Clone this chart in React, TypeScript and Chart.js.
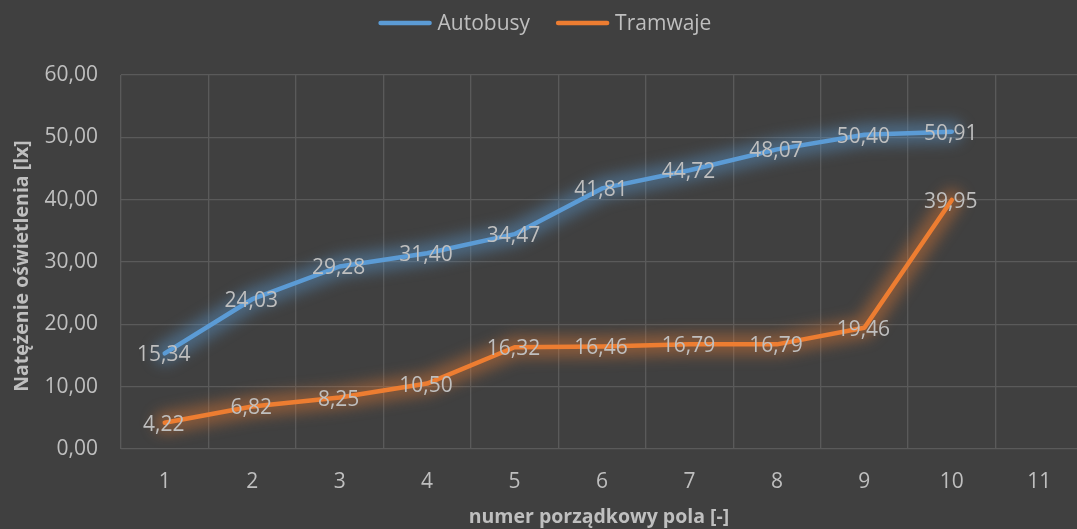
import React, { useEffect, useRef } from "react";
import { Chart, registerables } from "chart.js";

Chart.register(...registerables);

const categories = ["1", "2", "3", "4", "5", "6", "7", "8", "9", "10", "11"];
const autobusy = [15.34, 24.03, 29.28, 31.4, 34.47, 41.81, 44.72, 48.07, 50.4, 50.91];
const tramwaje = [4.22, 6.82, 8.25, 10.5, 16.32, 16.46, 16.79, 16.79, 19.46, 39.95];
const seriesNames = ["Autobusy", "Tramwaje"];
const seriesColors = ["#5B9BD5", "#ED7D31"];
const glowColors = ["rgba(91,155,213,0.42)", "rgba(237,125,49,0.4)"];
const yTitle = "Natężenie oświetlenia [lx]";
const xTitle = "numer porządkowy pola [-]";

const BG = "#404040";
const TEXT = "#BFBFBF";
const GRID = "#5A5A5A";
const FONT = "'Open Sans', sans-serif";

const fmt = (v: number) => v.toFixed(2).replace(".", ",");

const CANVAS_W = 1090;
const CANVAS_H = 529;

// soft glow under each series line
const glowPlugin = {
  id: "glow",
  beforeDatasetDraw(chart: any, args: any) {
    const ctx = chart.ctx;
    const pts = args.meta.data;
    ctx.save();
    ctx.strokeStyle = glowColors[args.index];
    ctx.lineWidth = 22;
    ctx.lineCap = "round";
    ctx.lineJoin = "round";
    ctx.filter = "blur(7px)";
    ctx.beginPath();
    pts.forEach((p: any, i: number) => (i ? ctx.lineTo(p.x, p.y) : ctx.moveTo(p.x, p.y)));
    ctx.stroke();
    ctx.restore();
  },
};

const decorPlugin = {
  id: "decor",
  beforeDraw(chart: any) {
    const { ctx, width, height } = chart;
    ctx.save();
    ctx.fillStyle = BG;
    ctx.fillRect(0, 0, width, height);
    ctx.restore();
  },
  afterDatasetsDraw(chart: any) {
    const { ctx, chartArea, width } = chart;
    ctx.save();
    // value labels centred on each point
    ctx.font = `21px ${FONT}`;
    ctx.fillStyle = TEXT;
    ctx.textAlign = "center";
    ctx.textBaseline = "middle";
    chart.data.datasets.forEach((ds: any, i: number) => {
      const meta = chart.getDatasetMeta(i);
      meta.data.forEach((pt: any, j: number) => {
        const v = ds.data[j];
        if (v == null) return;
        ctx.fillText(fmt(v), pt.x - 1, pt.y + 2);
      });
    });

    // axis titles
    ctx.font = `bold 19.5px ${FONT}`;
    ctx.fillStyle = TEXT;
    ctx.textAlign = "center";
    ctx.textBaseline = "middle";
    ctx.fillText(xTitle, (chartArea.left + chartArea.right) / 2 - 3, 517);
    ctx.save();
    ctx.translate(22, (chartArea.top + chartArea.bottom) / 2 + 4);
    ctx.rotate(-Math.PI / 2);
    ctx.fillText(yTitle, 0, 0);
    ctx.restore();

    // legend
    ctx.font = `21px ${FONT}`;
    const lineLen = 53;
    const gap = 6;
    const itemGap = 26;
    const widths = seriesNames.map((n) => ctx.measureText(n).width);
    const total = widths.reduce((a, w) => a + lineLen + gap + w, 0) + itemGap * (seriesNames.length - 1);
    let x = width / 2 - total / 2;
    const ly = 23;
    seriesNames.forEach((name, i) => {
      ctx.strokeStyle = seriesColors[i];
      ctx.lineWidth = 4.5;
      ctx.lineCap = "round";
      ctx.beginPath();
      ctx.moveTo(x + 2, ly);
      ctx.lineTo(x + lineLen - 2, ly);
      ctx.stroke();
      x += lineLen + gap;
      ctx.fillStyle = TEXT;
      ctx.textAlign = "left";
      ctx.textBaseline = "middle";
      ctx.fillText(name, x, ly + 1);
      x += widths[i] + itemGap;
    });
    ctx.restore();
  },
};

export default function App() {
  const ref = useRef<HTMLCanvasElement | null>(null);

  useEffect(() => {
    if (!ref.current) return;
    const chart = new Chart(ref.current, {
      type: "line",
      data: {
        labels: categories,
        datasets: [
          {
            label: seriesNames[0],
            data: autobusy,
            borderColor: seriesColors[0],
            backgroundColor: seriesColors[0],
            borderWidth: 4.5,
            pointRadius: 0,
            pointHoverRadius: 0,
            tension: 0,
            borderCapStyle: "round",
            borderJoinStyle: "round",
          },
          {
            label: seriesNames[1],
            data: tramwaje,
            borderColor: seriesColors[1],
            backgroundColor: seriesColors[1],
            borderWidth: 4.5,
            pointRadius: 0,
            pointHoverRadius: 0,
            tension: 0,
            borderCapStyle: "round",
            borderJoinStyle: "round",
          },
        ],
      },
      options: {
        responsive: false,
        animation: false,
        events: [],
        layout: { padding: { left: 0, right: CANVAS_W - 1083, top: 75, bottom: 0 } },
        plugins: {
          legend: { display: false },
          title: { display: false },
          tooltip: { enabled: false },
        },
        scales: {
          x: {
            type: "category",
            offset: true,
            grid: { color: GRID, lineWidth: 1.3, drawTicks: false, offset: true },
            border: { display: false },
            ticks: { color: TEXT, font: { family: FONT, size: 21 }, padding: 20, maxRotation: 0 },
            afterFit: (s: any) => {
              s.height = CANVAS_H - 449;
            },
          },
          y: {
            min: 0,
            max: 60,
            grid: { color: GRID, lineWidth: 1.3, drawTicks: false },
            border: { display: false },
            ticks: {
              stepSize: 10,
              color: TEXT,
              font: { family: FONT, size: 21 },
              padding: 23,
              callback: (v: any) => fmt(Number(v)),
            },
            afterFit: (s: any) => {
              s.width = 121;
            },
          },
        },
      },
      plugins: [decorPlugin, glowPlugin],
    });
    return () => chart.destroy();
  }, []);

  return (
    <div
      style={{
        position: "fixed",
        left: 0,
        top: 0,
        width: 1077,
        height: 529,
        overflow: "hidden",
        background: BG,
      }}
    >
      <canvas ref={ref} width={CANVAS_W} height={CANVAS_H} style={{ display: "block" }} />
    </div>
  );
}
